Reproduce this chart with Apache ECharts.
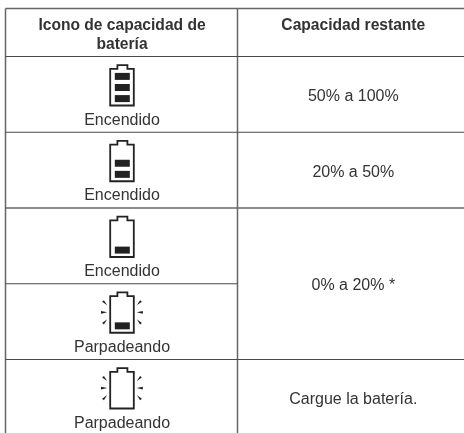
<!DOCTYPE html>
<html><head><meta charset="utf-8">
<style>html,body{margin:0;padding:0;background:#fff}#c{width:464px;height:433px}</style>
<script src="https://cdn.jsdelivr.net/npm/echarts@6/dist/echarts.min.js"></script>
</head><body><div id="c"></div>
<script>
// Table content
const headers = ["Icono de capacidad de\nbatería", "Capacidad restante"];
const iconStates = ["Encendido", "Encendido", "Encendido", "Parpadeando", "Parpadeando"];
const batteryBars = [3, 2, 1, 1, 0];
const blinking = [0, 0, 0, 1, 1];
const capacityLabels = ["50% a 100%", "20% a 50%", "0% a 20% *", "Cargue la batería."];
const capacityRowSpans = [1, 1, 2, 1];

// Layout (page pixels, via hidden axes)
const W = 464, H = 433;
const L = { left: 5.5, mid: 237.5, top: 8.5, head: 56.5, rowH: 75.75, col1: 122, col2: 353.3 };
const rowTop = i => L.head + L.rowH * i;
const FONT = '"Liberation Sans", Arial, sans-serif';
const INK = '#333333', RULE = '#4a4a4a';

const chart = echarts.init(document.getElementById('c'), null, { renderer: 'canvas' });

function P(api, x, y) { return api.coord([x, y]); }

function line(api, x1, y1, x2, y2, w, c) {
  const a = P(api, x1, y1), b = P(api, x2, y2);
  return { type: 'line', shape: { x1: a[0], y1: a[1], x2: b[0], y2: b[1] }, style: { stroke: c, lineWidth: w } };
}
function text(api, x, y, s, size, bold) {
  const p = P(api, x, y);
  return { type: 'text', style: { x: p[0], y: p[1], text: s, fill: INK, align: 'center', verticalAlign: 'middle',
    font: (bold ? 'bold ' : '') + size + 'px ' + FONT, lineHeight: 19.5 } };
}
function poly(api, pts, style) {
  return { type: 'polygon', shape: { points: pts.map(p => P(api, p[0], p[1])) }, style };
}

function renderRules(params, api) {
  const ch = [];
  const n = iconStates.length;
  ch.push(line(api, L.left, L.top, W, L.top, 1.5, '#666'));
  ch.push(line(api, L.left, L.top, L.left, H, 1.5, '#666'));
  ch.push(line(api, L.mid, L.top, L.mid, H, 1.5, '#666'));
  ch.push(line(api, L.left, L.head, W, L.head, 1.2, RULE));
  for (let i = 1; i < n; i++) {
    let merged = false, r = 0;
    capacityRowSpans.forEach(s => { if (i > r && i < r + s) merged = true; r += s; });
    ch.push(line(api, L.left, rowTop(i), merged ? L.mid : W, rowTop(i), i === 2 ? 1.6 : 1.2, i === 2 ? '#666' : RULE));
  }
  return { type: 'group', children: ch };
}

function renderRow(params, api) {
  const i = params.dataIndex, top = rowTop(i), cx = L.col1;
  const ch = [];
  const capTop = top + 8.6, bodyTop = top + 12.4, bodyBot = top + 49;
  const s = { stroke: '#222', lineWidth: 1.8, fill: 'none', lineJoin: 'miter' };
  ch.push(poly(api, [[cx - 11.8, bodyTop], [cx - 4.6, bodyTop], [cx - 4.6, capTop], [cx + 5.4, capTop], [cx + 5.4, bodyTop],
    [cx + 11.8, bodyTop], [cx + 11.8, bodyBot], [cx - 11.8, bodyBot]], s));
  for (let b = 0; b < batteryBars[i]; b++) {
    const y2 = top + 45.6 - b * 11.1, y1 = y2 - 7;
    ch.push(poly(api, [[cx - 7.2, y1], [cx + 7.8, y1], [cx + 7.8, y2], [cx - 7.2, y2]], { fill: '#222' }));
  }
  if (blinking[i]) {
    const cy = top + 28.6;
    [-1, 1].forEach(d => {
      const f = { fill: '#222' };
      const ox = d < 0 ? -21 : 20.8, ix = d < 0 ? -14.8 : 14.6;
      ch.push(poly(api, [[cx + ox, cy - 1.4], [cx + ix, cy], [cx + ox, cy + 1.4]], f));
      const dx = d < 0 ? -1 : 1;
      ch.push(poly(api, [[cx + dx * 19.9, cy - 10.6], [cx + dx * 18.1, cy - 12.2], [cx + dx * 14.8, cy - 7]], f));
      ch.push(poly(api, [[cx + dx * 19.9, cy + 10.6], [cx + dx * 18.1, cy + 12.2], [cx + dx * 14.8, cy + 7]], f));
    });
  }
  ch.push(text(api, cx, top + 63.8, iconStates[i], 16));
  return { type: 'group', children: ch };
}

function renderCapacity(params, api) {
  const i = params.dataIndex;
  let r = 0;
  for (let k = 0; k < i; k++) r += capacityRowSpans[k];
  const y = rowTop(r) + L.rowH * capacityRowSpans[i] / 2 + 2.3;
  return text(api, L.col2, y, capacityLabels[i], 16);
}

function renderHead(params, api) {
  return { type: 'group', children: [
    text(api, L.col1, 35.2, headers[0], 15.6, true),
    text(api, L.col2, 25.4, headers[1], 15.6, true)
  ] };
}

const custom = (name, data, fn) => ({ type: 'custom', name, data, renderItem: fn, silent: true, clip: false, animation: false,
  encode: { x: 0, y: 1 } });

chart.setOption({
  animation: false,
  backgroundColor: '#fff',
  grid: { left: 0, right: 0, top: 0, bottom: 0 },
  xAxis: { type: 'value', min: 0, max: W, show: false },
  yAxis: { type: 'value', min: 0, max: H, inverse: true, show: false },
  series: [
    custom('rules', [[0, 0]], renderRules),
    custom('head', [[0, 0]], renderHead),
    custom('icons', iconStates.map((s, i) => [i, batteryBars[i], blinking[i]]), renderRow),
    custom('capacity', capacityLabels.map((s, i) => [i, capacityRowSpans[i]]), renderCapacity)
  ]
});
</script></body></html>
